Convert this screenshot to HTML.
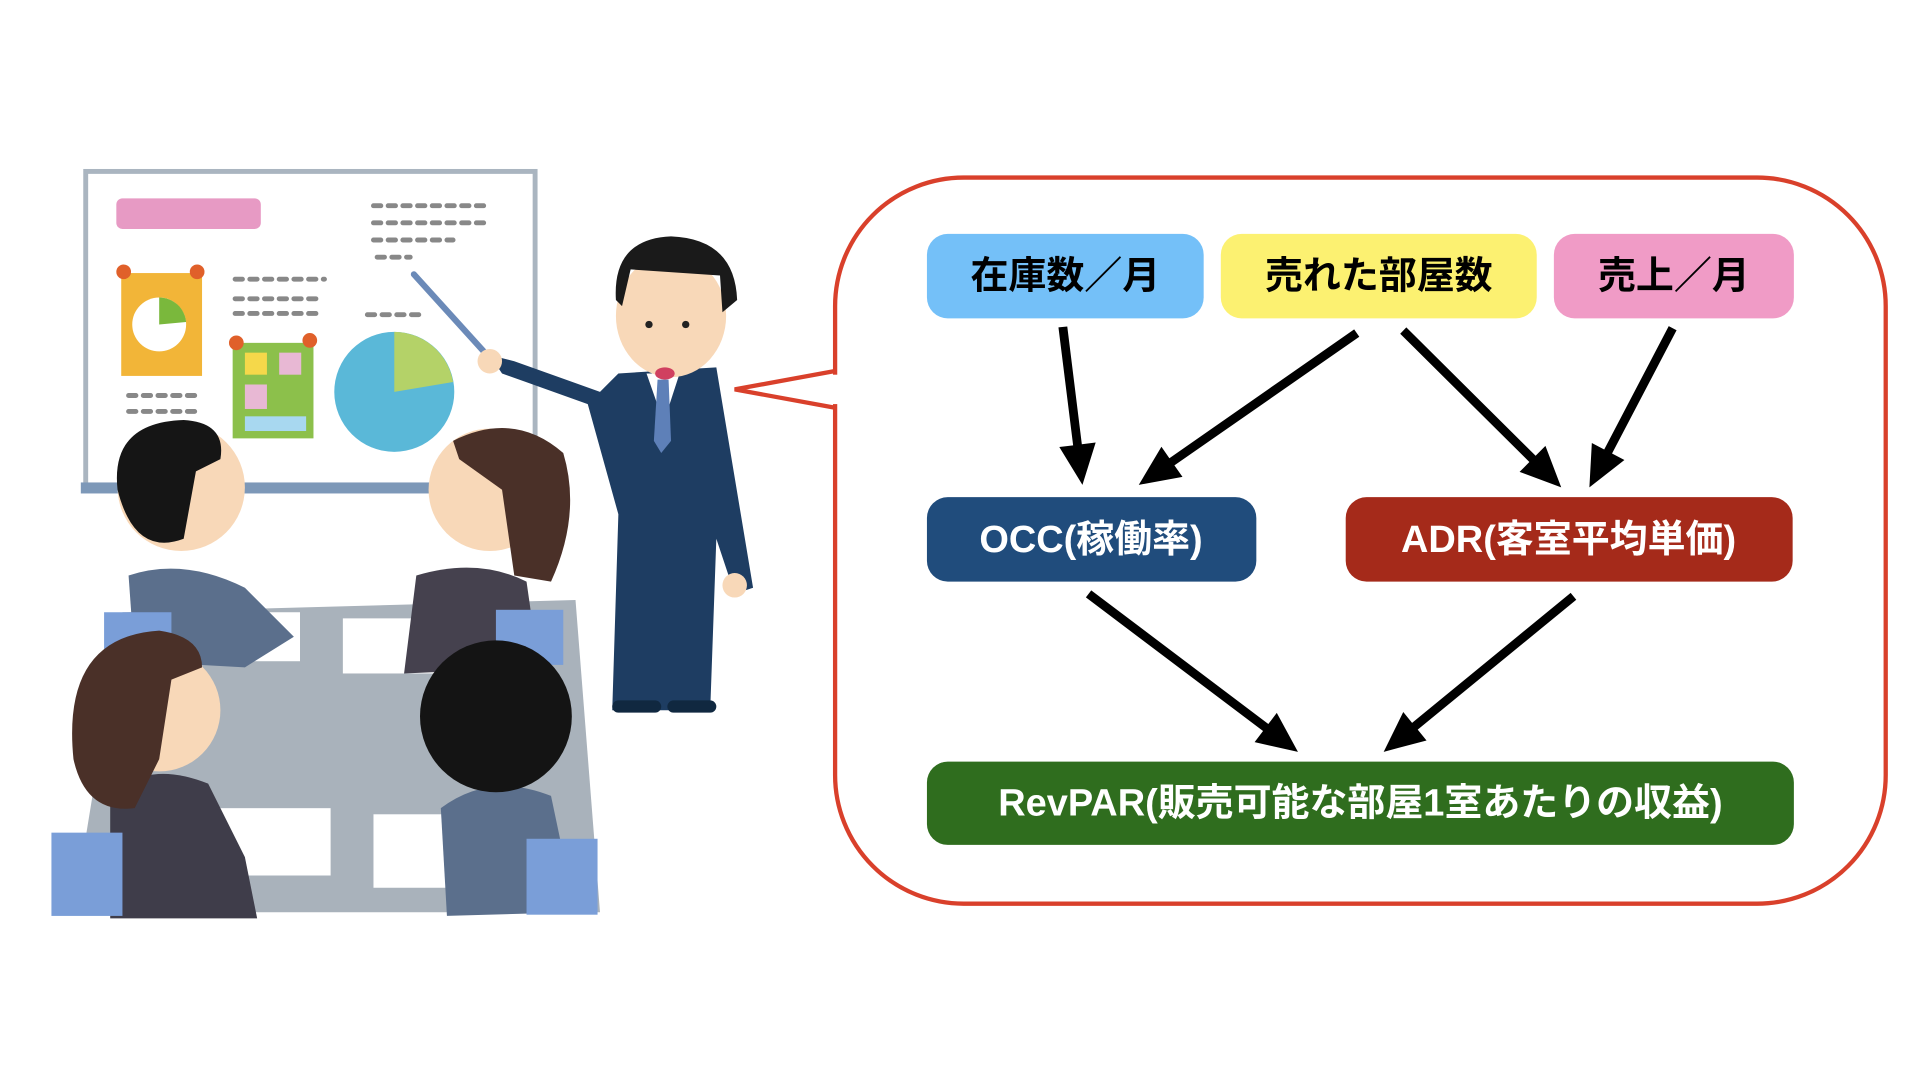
<!DOCTYPE html>
<html><head><meta charset="utf-8"><style>
html,body{margin:0;padding:0;background:#fff;width:1920px;height:1080px;overflow:hidden}
svg{display:block}
.t{font-family:"Liberation Sans","Noto Sans CJK JP",sans-serif;font-weight:bold;font-size:31px;text-anchor:middle;dominant-baseline:central}
</style></head><body>
<svg id="s" width="1920" height="1080" viewBox="0 0 1568 882" xmlns="http://www.w3.org/2000/svg">
<g>
<rect x="70" y="140" width="367" height="258" fill="#fff" stroke="#aab5c0" stroke-width="4"/>
<rect x="66" y="394" width="376" height="9" fill="#7d98b8"/>
<rect x="95" y="162" width="118" height="25" rx="5" fill="#e79ac4"/>
<rect x="99" y="223" width="66" height="84" fill="#f2b538"/>
<circle cx="101" cy="222" r="6" fill="#e0602a"/><circle cx="161" cy="222" r="6" fill="#e0602a"/>
<circle cx="130" cy="265" r="22" fill="#fff"/><path d="M130 265 L130 243 A22 22 0 0 1 152 263 Z" fill="#7ab83c"/>
<rect x="190" y="280" width="66" height="78" fill="#8cc04b"/>
<circle cx="193" cy="280" r="6" fill="#e0602a"/><circle cx="253" cy="278" r="6" fill="#e0602a"/>
<rect x="200" y="288" width="18" height="18" fill="#f5d84a"/><rect x="228" y="288" width="18" height="18" fill="#e8b8d4"/>
<rect x="200" y="314" width="18" height="20" fill="#e8b8d4"/><rect x="200" y="340" width="50" height="12" fill="#a8d8f0"/>
<circle cx="322" cy="320" r="49" fill="#5ab8d8"/><path d="M322 320 L322 271 A49 49 0 0 1 370 312 Z" fill="#b4d268"/>
<g stroke="#888" stroke-width="4" stroke-linecap="round" stroke-dasharray="6 6">
<line x1="305" y1="168" x2="400" y2="168"/><line x1="305" y1="182" x2="400" y2="182"/><line x1="305" y1="196" x2="370" y2="196"/><line x1="308" y1="210" x2="335" y2="210"/>
<line x1="192" y1="228" x2="265" y2="228"/><line x1="192" y1="244" x2="260" y2="244"/><line x1="192" y1="256" x2="258" y2="256"/>
<line x1="105" y1="323" x2="165" y2="323"/><line x1="105" y1="336" x2="165" y2="336"/><line x1="300" y1="257" x2="345" y2="257"/>
</g>
<line x1="338" y1="224" x2="396" y2="288" stroke="#6b8ab8" stroke-width="5" stroke-linecap="round"/>
<polygon points="100,500 470,490 490,745 60,745" fill="#a9b2bb"/>
<rect x="280" y="505" width="90" height="45" fill="#fff"/><rect x="130" y="500" width="115" height="40" fill="#fff"/>
<rect x="170" y="660" width="100" height="55" fill="#fff"/><rect x="305" y="665" width="80" height="60" fill="#fff"/>
<path d="M505 305 L585 300 L605 420 L615 480 L600 485 L585 440 L580 580 L500 580 L505 420 L480 330 L410 305 L400 290 L420 295 L490 320 Z" fill="#1e3d62"/>
<polygon points="528,305 555,305 542,345" fill="#fff"/><polygon points="537,310 546,310 548,360 540,370 534,360" fill="#5e80b8"/>
<ellipse cx="548" cy="258" rx="45" ry="50" fill="#f8d8b8"/>
<path d="M503 245 Q500 195 548 193 Q600 195 602 245 L590 255 L588 225 L515 220 L508 250 Z" fill="#1a1a1a"/>
<circle cx="530" cy="265" r="3" fill="#222"/><circle cx="560" cy="265" r="3" fill="#222"/>
<ellipse cx="543" cy="305" rx="8" ry="5" fill="#d04060"/>
<circle cx="400" cy="295" r="10" fill="#f8d8b8"/><circle cx="600" cy="478" r="10" fill="#f8d8b8"/>
<rect x="500" y="572" width="40" height="10" rx="5" fill="#102840"/><rect x="545" y="572" width="40" height="10" rx="5" fill="#102840"/>
<path d="M105 470 Q150 455 200 480 L240 520 L200 545 L110 540 Z" fill="#5b6f8c"/>
<circle cx="148" cy="398" r="52" fill="#f8d8b8"/><path d="M96 400 Q90 345 150 343 Q185 345 180 375 L160 385 L150 440 Q110 455 96 400 Z" fill="#151515"/>
<path d="M340 470 Q390 455 430 475 L440 545 L330 550 Z" fill="#45414e"/>
<circle cx="400" cy="400" r="50" fill="#f8d8b8"/><path d="M370 360 Q420 335 460 370 Q475 420 450 475 L420 470 L410 400 L375 375 Z" fill="#4a3028"/>
<rect x="405" y="498" width="55" height="45" fill="#7a9ed8"/><rect x="85" y="500" width="55" height="30" fill="#7a9ed8"/>
<path d="M90 650 Q120 620 170 640 L200 700 L210 750 L90 750 Z" fill="#3f3d4a"/>
<circle cx="130" cy="580" r="50" fill="#f8d8b8"/><path d="M60 620 Q50 520 130 515 Q165 520 165 545 L140 555 L130 620 L110 660 Q70 665 60 620 Z" fill="#4a3028"/>
<rect x="42" y="680" width="58" height="68" fill="#7a9ed8"/>
<path d="M360 660 Q400 630 450 650 L470 745 L365 748 Z" fill="#5b6f8c"/>
<circle cx="405" cy="585" r="62" fill="#141414"/><rect x="430" y="685" width="58" height="62" fill="#7a9ed8"/>
</g>
<path d="M682 303 L600 318 L682 333" fill="#fff" stroke="#d9402b" stroke-width="3.5"/>
<rect x="682" y="145" width="858" height="593" rx="105" fill="#fff" stroke="#d9402b" stroke-width="3.5"/>
<rect x="678" y="306" width="8" height="24" fill="#fff"/>
<rect x="757" y="191" width="226" height="69" rx="17" fill="#74c0f8"/>
<text class="t" x="870" y="226">在庫数／月</text>
<rect x="997" y="191" width="258" height="69" rx="17" fill="#fcf171"/>
<text class="t" x="1126" y="226">売れた部屋数</text>
<rect x="1269" y="191" width="196" height="69" rx="17" fill="#f09bc6"/>
<text class="t" x="1367" y="226">売上／月</text>
<rect x="757" y="406" width="269" height="69" rx="17" fill="#204c7c"/>
<text class="t" x="891" y="441" fill="#fff">OCC(稼働率)</text>
<rect x="1099" y="406" width="365" height="69" rx="17" fill="#a52a1a"/>
<text class="t" x="1281" y="441" fill="#fff">ADR(客室平均単価)</text>
<rect x="757" y="622" width="708" height="68" rx="17" fill="#2f6d1e"/>
<text class="t" x="1111" y="656" fill="#fff">RevPAR(販売可能な部屋1室あたりの収益)</text>
<g id="arrows" fill="#000"></g>
</svg>
<script>
var A=[[868,267,884,396],[1108,272,930,396],[1146,270,1275,398],[1366,268,1298,398],[889,485,1060,614],[1285,487,1130,614]];
var g=document.getElementById('arrows'),ns='http://www.w3.org/2000/svg';
A.forEach(function(a){var dx=a[2]-a[0],dy=a[3]-a[1],L=Math.hypot(dx,dy),ux=dx/L,uy=dy/L,px=-uy,py=ux;
var hl=33,hw=15,sw=3.6,bx=a[2]-ux*hl,by=a[3]-uy*hl;
var p=[[a[0]+px*sw,a[1]+py*sw],[bx+px*sw,by+py*sw],[bx+px*hw,by+py*hw],[a[2],a[3]],[bx-px*hw,by-py*hw],[bx-px*sw,by-py*sw],[a[0]-px*sw,a[1]-py*sw]];
var e=document.createElementNS(ns,'polygon');e.setAttribute('points',p.map(function(q){return q[0].toFixed(1)+','+q[1].toFixed(1)}).join(' '));g.appendChild(e);});
</script>
</body></html>
